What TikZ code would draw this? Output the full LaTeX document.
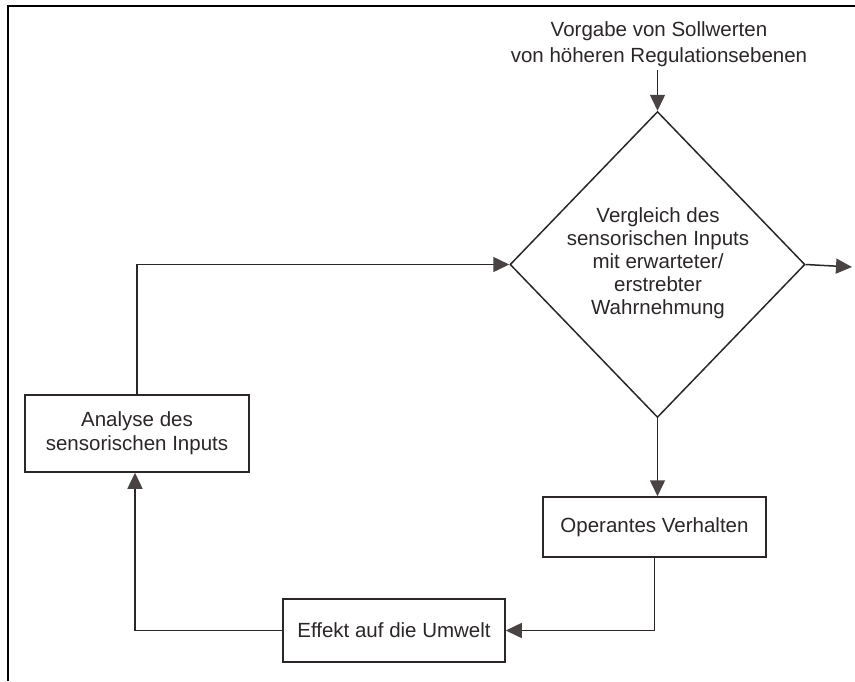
\documentclass[tikz,border=0pt]{standalone}
\usepackage{fontspec}
\setmainfont{Liberation Sans}
\usetikzlibrary{arrows.meta,shapes.geometric}
\definecolor{ink}{HTML}{2B2727}
\definecolor{tipc}{HTML}{4A4343}
\begin{document}
\begin{tikzpicture}[x=1pt,y=-1pt,
  txt/.style={font=\fontsize{20.5}{23}\selectfont, text=ink, align=center, inner sep=0pt},
  box/.style={draw=ink, line width=1.5pt, txt},
  conn/.style={draw=ink, line width=1.5pt},
  arr/.style={conn, -{Triangle[length=16pt,width=15pt,fill=tipc,color=tipc]}}]
\useasboundingbox (0,0) rectangle (855,681);
\fill[white] (0,0) rectangle (855,681);
\draw[line width=2.2pt, black] (8,681) -- (8,6) -- (855,6);

% nodes
\node[txt, font=\fontsize{20.5}{25.5}\selectfont] (goal) at (659,44)
  {Vorgabe von Sollwerten\\von höheren Regulationsebenen};
\node[diamond, draw=ink, line width=1.5pt, inner sep=0pt,
      minimum width=295pt, minimum height=306pt] (cmp) at (657.5,264.5) {};
\node[txt] (cmptext) at (658,263)
  {Vergleich des\\sensorischen Inputs\\mit erwarteter/\\erstrebter\\Wahrnehmung};
\node[box, minimum width=223pt, minimum height=60pt] (op) at (654.5,527) {Operantes Verhalten};
\node[box, minimum width=222pt, minimum height=63pt] (eff) at (394,630.5) {Effekt auf die Umwelt};
\node[box, minimum width=224pt, minimum height=77pt, font=\fontsize{20.5}{24}\selectfont] (ana) at (137,433.5)
  {Analyse des\\sensorischen Inputs};
\coordinate (out) at (852,267);

% connectors
\draw[arr] ([yshift=-3pt]cmp.north |- goal.south) -- (cmp.north);
\draw[arr] (cmp.east) -- (out);
\draw[arr] (cmp.south) -- (op.north -| cmp.south);
\draw[arr] (op.south) -- (op.south |- eff.east) -- (eff.east);
\draw[arr] (eff.west) -- ([xshift=-2pt]ana.south |- eff.west) -- ([xshift=-2pt]ana.south);
\draw[arr] (ana.north) -- (ana.north |- cmp.west) -- (cmp.west);
\end{tikzpicture}
\end{document}
